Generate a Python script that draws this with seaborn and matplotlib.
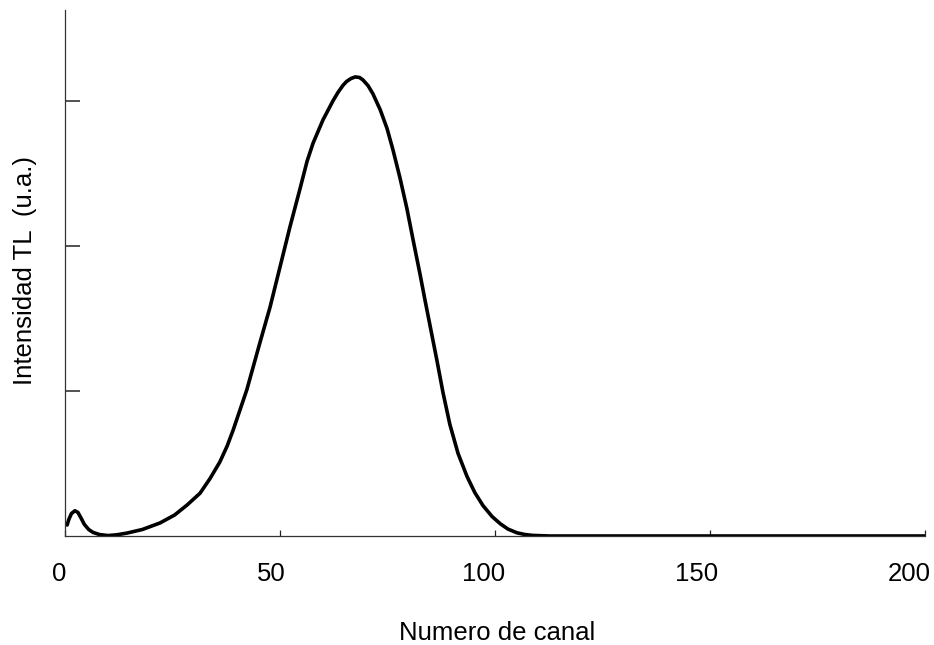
import matplotlib
matplotlib.use("Agg")
import matplotlib.pyplot as plt
import matplotlib.transforms as mtransforms
import seaborn as sns
import pandas as pd

# Data (channel number vs TL intensity, arbitrary units)
canal = [0.5, 0.9, 1.5, 2.3, 3.0, 3.8, 4.5, 5.5, 6.5, 8.0, 10.0, 12.0, 14.4,
         18.0, 22.1, 25.5, 28.4, 31.4, 33.7, 36.0, 37.7, 39.1, 40.7, 42.3,
         45.3, 47.7, 50.0, 52.3, 54.7, 56.3, 57.7, 60.0, 62.3, 63.5, 64.7,
         65.5, 66.5, 67.5, 68.5, 69.3, 70.5, 71.6, 73.3, 74.9, 76.3, 77.9,
         79.5, 80.9, 82.6, 83.7, 84.9, 86.5, 87.9, 89.5, 91.4, 93.5, 95.3,
         97.2, 99.3, 101.2, 103.0, 105.1, 107.0, 108.8, 112.8, 120.0, 150.0,
         200.0]
intensidad = [0.076, 0.115, 0.155, 0.174, 0.163, 0.12, 0.08, 0.045, 0.025,
              0.01, 0.003, 0.008, 0.02, 0.045, 0.09, 0.145, 0.214, 0.295,
              0.395, 0.51, 0.62, 0.73, 0.87, 1.01, 1.33, 1.58, 1.855, 2.13,
              2.40, 2.585, 2.71, 2.87, 3.00, 3.06, 3.11, 3.135, 3.155, 3.166,
              3.162, 3.145, 3.105, 3.05, 2.94, 2.81, 2.66, 2.47, 2.26, 2.05,
              1.80, 1.63, 1.45, 1.21, 0.99, 0.77, 0.57, 0.41, 0.30, 0.21,
              0.135, 0.085, 0.048, 0.022, 0.01, 0.004, 0.0, 0.0, 0.0, 0.0]
x_ticks = [0, 50, 100, 150, 200]
y_ticks = [1, 2, 3]

df = pd.DataFrame({"canal": canal, "intensidad": intensidad})

sns.set_style("ticks")
plt.rcParams["font.family"] = ["Liberation Sans", "DejaVu Sans"]

fig = plt.figure(figsize=(9.34, 6.45), dpi=100)
ax = fig.add_axes([65 / 934, 1 - 536 / 645, 860 / 934, 526 / 645])

sns.lineplot(data=df, x="canal", y="intensidad", ax=ax, color="black",
             linewidth=2.6, estimator=None, sort=False,
             solid_joinstyle="round", solid_capstyle="round")

ax.set_xlim(0, 200)
ax.set_ylim(0, 526 / 145)
ax.set_xticks(x_ticks)
ax.set_xticklabels([str(t) for t in x_ticks])
ax.set_yticks(y_ticks)
ax.set_yticklabels([])
ax.set_xlabel("")
ax.set_ylabel("")

for s in ["top", "right"]:
    ax.spines[s].set_visible(False)
for s in ["left", "bottom"]:
    ax.spines[s].set_linewidth(0.9)
    ax.spines[s].set_color("#333333")

ax.tick_params(axis="y", direction="in", length=11, width=1.1, color="#222222")
ax.tick_params(axis="x", direction="in", length=4, width=0.9, color="#222222",
               labelsize=18.5, pad=19, labelcolor="black")

# the scanned labels sit slightly left of their ticks, more so to the right
for v, lab in zip(x_ticks, ax.get_xticklabels()):
    dx = (-6 - 0.05 * v) / 100
    lab.set_transform(lab.get_transform()
                      + mtransforms.ScaledTranslation(dx, 0, fig.dpi_scale_trans))

fig.text(497 / 934, 1 - 633 / 645, "Numero de canal", ha="center", va="center",
         fontsize=18.5, color="black")
fig.text(25 / 934, 1 - 270 / 645, "Intensidad TL  (u.a.)", ha="center",
         va="center", rotation=90, fontsize=18.5, color="black")

fig.savefig("out.png", dpi=100, facecolor="white")
